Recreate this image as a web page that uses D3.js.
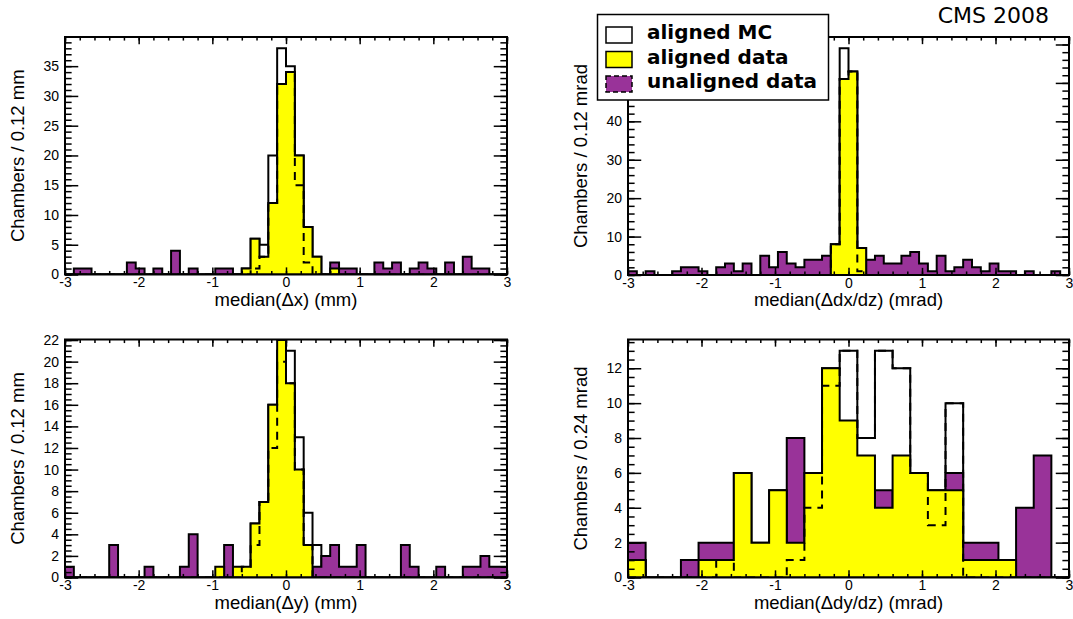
<!DOCTYPE html>
<html><head><meta charset="utf-8">
<script src="https://cdn.jsdelivr.net/npm/d3@7"></script>
<style>
body{margin:0;background:#fff}
svg{display:block}
text{font-family:"Liberation Sans",Arial,Helvetica,sans-serif;fill:#000}
</style>
</head><body>
<svg id="c" width="1073" height="619"></svg>
<script>
// ---------- data (bin contents, bins span [-3,3]) ----------
// Panel 1: median(Δx), 50 bins of 0.12 mm
const dxMC        = [0,0,0,0,0,0,0,0,0,0, 0,0,0,0,0,0,0,0,0,0, 1,6,5,20,38,35,20,8,3,0, 0,0,0,0,0,0,0,0,0,0, 0,0,0,0,0,0,0,0,0,0];
const dxAligned   = [0,0,0,0,0,0,0,0,0,0, 0,0,0,0,0,0,0,0,0,0, 1,6,3,12,32,34,20,8,3,0, 1,0,0,0,0,0,0,0,0,0, 0,0,0,0,0,0,0,0,0,0];
const dxUnaligned = [0,1,1,0,0,0,0,2,1,0, 1,0,4,0,1,0,0,1,1,0, 0,0,0,0,0,0,0,0,0,0, 2,1,1,0,0,2,1,2,0,1, 2,1,0,2,0,3,1,1,0,0];
const dxDashed    = [0,0,0,0,0,0,0,0,0,0, 0,0,0,0,0,0,0,0,0,0, 0,1,3,12,32,34,15,2,0,0, 0,0,0,0,0,0,0,0,0,0, 0,0,0,0,0,0,0,0,0,0];
// Panel 2: median(Δdx/dz), 50 bins of 0.12 mrad
const dxdzMC        = [0,0,0,0,0,0,0,0,0,0, 0,0,0,0,0,0,0,0,0,0, 0,0,0,8,59,53,7,0,0,0, 0,0,0,0,0,0,0,0,0,0, 0,0,0,0,0,0,0,0,0,0];
const dxdzAligned   = [0,0,0,0,0,0,0,0,0,0, 0,0,0,0,0,0,0,0,0,0, 0,0,0,8,51,53,7,0,0,0, 0,0,0,0,0,0,0,0,0,0, 0,0,0,0,0,0,0,0,0,0];
const dxdzUnaligned = [1,0,1,0,0,1,2,2,1,0, 2,3,1,3,0,5,2,6,3,2, 4,4,5,0,0,0,0,4,5,3, 3,5,6,3,1,5,1,2,4,2, 1,3,1,1,0,1,0,0,1,0];
const dxdzDashed    = [0,0,0,0,0,0,0,0,0,0, 0,0,0,0,0,0,0,0,0,0, 0,0,0,8,51,53,1,0,0,0, 0,0,0,0,0,0,0,0,0,0, 0,0,0,0,0,0,0,0,0,0];
// Panel 3: median(Δy), 50 bins of 0.12 mm
const dyMC        = [0,0,0,0,0,0,0,0,0,0, 0,0,0,0,0,0,0,0,0,0, 0,5,7,16,21,21,13,6,3,0, 0,0,0,0,0,0,0,0,0,0, 0,0,0,0,0,0,0,0,0,0];
const dyAligned   = [0,0,0,0,0,0,0,0,0,0, 0,0,0,0,0,0,0,1,0,1, 1,5,7,16,22,18,10,3,0,0, 0,0,0,0,0,0,0,0,0,0, 0,0,0,0,0,0,0,0,0,0];
const dyUnaligned = [1,0,0,0,0,3,0,0,0,1, 0,0,0,1,4,0,0,0,3,0, 0,0,0,0,0,0,0,0,1,2, 3,1,1,3,0,0,0,0,3,1, 0,0,1,0,0,1,1,2,1,1];
const dyDashed    = [0,0,0,0,0,0,0,0,0,0, 0,0,0,0,0,0,0,0,0,0, 1,3,7,12,20,18,10,3,0,0, 0,0,0,0,0,0,0,0,0,0, 0,0,0,0,0,0,0,0,0,0];
// Panel 4: median(Δdy/dz), 25 bins of 0.24 mrad
const dydzMC        = [1,0,0,0,1,1,6,2,5,2,6,12,13,8,13,12,6,5,10,1,1,1,0,0,0];
const dydzAligned   = [1,0,0,0,1,1,6,2,5,2,6,12,9,7,4,7,6,5,5,1,1,1,0,0,0];
const dydzUnaligned = [2,0,0,1,2,2,0,0,0,8,0,0,0,0,5,0,0,0,6,2,2,0,4,7,0];
const dydzDashed    = [0,0,0,0,0,1,0,0,0,1,4,11,13,8,13,12,6,3,10,0,0,0,0,0,0];

const xTicks = [-3,-2,-1,0,1,2,3];
const xTitles = ["median(\u0394x) (mm)","median(\u0394dx/dz) (mrad)","median(\u0394y) (mm)","median(\u0394dy/dz) (mrad)"];
const yTitles = ["Chambers / 0.12 mm","Chambers / 0.12 mrad","Chambers / 0.12 mm","Chambers / 0.24 mrad"];
const legendLabels = ["aligned MC","aligned data","unaligned data"];

// ---------- style / layout ----------
const YELLOW = "#ffff00", PURPLE = "#993399";
const svg = d3.select("#c");
svg.append("rect").attr("width",1073).attr("height",619).attr("fill","#fff");

const panels = [
  {x0:65,  x1:507,  y0:37,  y1:274.5, mc:dxMC,   al:dxAligned,   un:dxUnaligned,   da:dxDashed,   major:5, minor:1},
  {x0:628, x1:1069, y0:37,  y1:275,   mc:dxdzMC, al:dxdzAligned, un:dxdzUnaligned, da:dxdzDashed, major:10, minor:2},
  {x0:65,  x1:507,  y0:339.5,y1:577.5, mc:dyMC,  al:dyAligned,   un:dyUnaligned,   da:dyDashed,   major:2, minor:0.5},
  {x0:628, x1:1069, y0:339.5,y1:577.5, mc:dydzMC,al:dydzAligned, un:dydzUnaligned, da:dydzDashed, major:2, minor:0.5}
];

panels.forEach((p,pi)=>{
  const g = svg.append("g");
  const x = d3.scaleLinear().domain([-3,3]).range([p.x0,p.x1]);
  const ymax = 1.05*d3.max(p.mc);
  const y = d3.scaleLinear().domain([0,ymax]).range([p.y1,p.y0]);
  const nb = p.mc.length, bw = 6/nb;
  const edges = d3.range(nb+1).map(i=>-3+i*bw);
  const pts = vals => {
    const a=[[edges[0],0]];
    vals.forEach((v,i)=>{a.push([edges[i],v]);a.push([edges[i+1],v]);});
    a.push([edges[nb],0]);
    return a;
  };
  const line = d3.line().x(d=>x(d[0])).y(d=>y(Math.min(d[1],ymax)));
  const cid = "clip"+pi;
  svg.append("clipPath").attr("id",cid).append("rect")
     .attr("x",p.x0).attr("y",p.y0).attr("width",p.x1-p.x0).attr("height",p.y1-p.y0);
  const hg = g.append("g").attr("clip-path","url(#"+cid+")");
  hg.append("path").attr("d",line(pts(p.mc))).attr("fill","none").attr("stroke","#000").attr("stroke-width",2);
  hg.append("path").attr("d",line(pts(p.un))+"Z").attr("fill",PURPLE).attr("stroke","#000").attr("stroke-width",2);
  hg.append("path").attr("d",line(pts(p.al))+"Z").attr("fill",YELLOW).attr("stroke","#000").attr("stroke-width",2);
  hg.append("path").attr("d",line(pts(p.da))).attr("fill","none").attr("stroke","#000").attr("stroke-width",2).attr("stroke-dasharray","8,6");

  // axes
  const xl = 0.03*(p.y1-p.y0), yl = 0.03*(p.x1-p.x0);
  const minorX = d3.range(-3,3.001,0.2).map(v=>+v.toFixed(2));
  const majorY = d3.range(0,ymax+1e-9,p.major);
  const minorY = d3.range(0,ymax+1e-9,p.minor);
  const ax = (gen, tr) => {
    const a = g.append("g").attr("transform",tr).call(gen);
    a.select(".domain").remove();
    a.selectAll("line").attr("stroke","#000").attr("stroke-width",1.5);
    a.selectAll("text").attr("font-size",14).attr("fill","#000");
    return a;
  };
  ax(d3.axisBottom(x).tickValues(xTicks).tickSize(-xl).tickPadding(3).tickFormat(d3.format("d")),`translate(0,${p.y1})`);
  ax(d3.axisBottom(x).tickValues(minorX).tickSize(-xl/2).tickFormat(""),`translate(0,${p.y1})`);
  ax(d3.axisTop(x).tickValues(xTicks).tickSize(-xl).tickFormat(""),`translate(0,${p.y0})`);
  ax(d3.axisTop(x).tickValues(minorX).tickSize(-xl/2).tickFormat(""),`translate(0,${p.y0})`);
  ax(d3.axisLeft(y).tickValues(majorY).tickSize(-yl).tickPadding(6).tickFormat(d3.format("d")),`translate(${p.x0},0)`);
  ax(d3.axisLeft(y).tickValues(minorY).tickSize(-yl/2).tickFormat(""),`translate(${p.x0},0)`);
  ax(d3.axisRight(y).tickValues(majorY).tickSize(-yl).tickFormat(""),`translate(${p.x1},0)`);
  ax(d3.axisRight(y).tickValues(minorY).tickSize(-yl/2).tickFormat(""),`translate(${p.x1},0)`);
  g.selectAll("text").each(function(){ this.textContent = this.textContent.replace("\u2212","-"); });

  g.append("rect").attr("x",p.x0).attr("y",p.y0).attr("width",p.x1-p.x0).attr("height",p.y1-p.y0)
   .attr("fill","none").attr("stroke","#000").attr("stroke-width",2);

  g.append("text").attr("x",(p.x0+p.x1)/2).attr("y",p.y1+31).attr("text-anchor","middle")
   .attr("font-size",18.5).text(xTitles[pi]);
  g.append("text").attr("transform",`translate(${p.x0-41},${(p.y0+p.y1)/2}) rotate(-90)`)
   .attr("text-anchor","middle").attr("font-size",18.5).text(yTitles[pi]);
});

// legend
const lg = svg.append("g");
lg.append("rect").attr("x",597.5).attr("y",14.5).attr("width",231).attr("height",85.5)
  .attr("fill","#fff").attr("stroke","#000").attr("stroke-width",1.5);
const fills = ["#fff",YELLOW,PURPLE];
legendLabels.forEach((t,i)=>{
  const yy = 27 + i*24.5;
  lg.append("rect").attr("x",606).attr("y",yy).attr("width",26).attr("height",16)
    .attr("fill",fills[i]).attr("stroke","#000").attr("stroke-width",1.5)
    .attr("stroke-dasharray", i===2 ? "5,3" : null);
  lg.append("text").attr("x",647).attr("y",yy+12).attr("font-size",20)
    .attr("font-weight","bold").style("font-family","'DejaVu Sans',sans-serif").text(t);
});
svg.append("text").attr("x",1049).attr("y",22.5).attr("text-anchor","end")
  .attr("font-size",22).style("font-family","'DejaVu Sans',sans-serif").text("CMS 2008");
</script>
</body></html>
